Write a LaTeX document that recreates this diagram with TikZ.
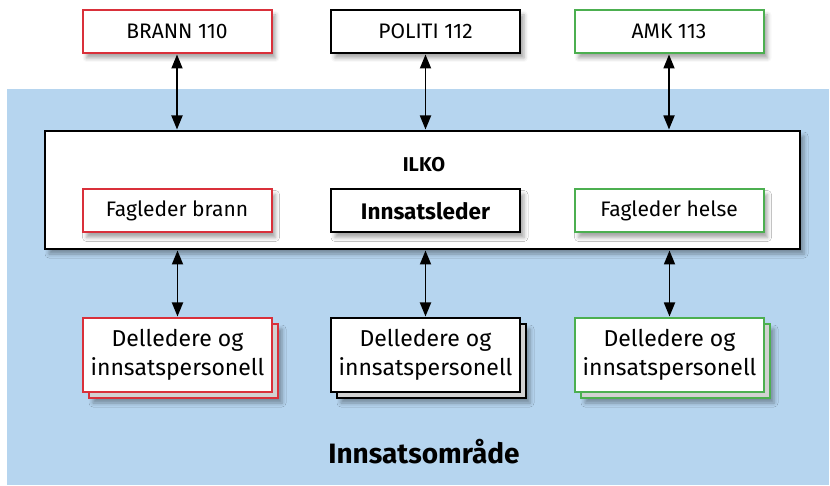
\documentclass[tikz,border=0pt]{standalone}
\usepackage{fontspec}
\setmainfont{Fira Sans}
\usetikzlibrary{arrows.meta,shadows.blur}
\definecolor{bluebg}{HTML}{B6D5EF}
\definecolor{redb}{HTML}{D9303A}
\definecolor{greenb}{HTML}{4CAF50}
\definecolor{sheet}{HTML}{D2D2D2}
\tikzset{
  box/.style={draw, line width=2pt, fill=white, minimum width=189pt, minimum height=43pt, inner sep=0pt,
    blur shadow={shadow xshift=4pt, shadow yshift=-5pt, shadow blur radius=4pt, shadow opacity=35},
    font=\fontsize{21}{25}\selectfont},
  bigbox/.style={draw, line width=2pt, fill=white, minimum width=189pt, minimum height=74pt, inner sep=0pt,
    align=center, font=\fontsize{23}{29}\selectfont},
  backsheet/.style={draw, line width=1.2pt, fill=sheet, minimum width=189pt, minimum height=74pt, inner sep=0pt,
    blur shadow={shadow xshift=4pt, shadow yshift=-5pt, shadow blur radius=4pt, shadow opacity=35}},
  conn/.style={line width=1.8pt, {Triangle[length=14pt,width=11pt]}-{Triangle[length=14pt,width=11pt]}, shorten <=0.5pt, shorten >=0.5pt}
}
\begin{document}
\begin{tikzpicture}[x=1pt,y=-1pt]
\useasboundingbox (0,0) rectangle (830,486);
\fill[bluebg] (7,89) rectangle (829,485);
% top boxes
\node[box, draw=redb] (brann) at (177,31.5) {BRANN 110};
\node[box, draw=black] (politi) at (425.5,31.5) {POLITI 112};
\node[box, draw=greenb] (amk) at (669,31.5) {AMK 113};
% ILKO
\node[draw, line width=2pt, fill=white, minimum width=755pt, minimum height=118pt, inner sep=0pt,
  blur shadow={shadow xshift=4pt, shadow yshift=-5pt, shadow blur radius=4pt, shadow opacity=35}] (ilko) at (422.5,190) {};
\node[font=\fontsize{20}{24}\selectfont\bfseries] (ilkolabel) at (424,165) {ILKO};
\node[box, draw=redb] (fbrann) at (177,211) {Fagleder brann};
\node[box, draw=black, font=\fontsize{22.5}{26}\selectfont\bfseries] (ileder) at (425.5,211) {Innsatsleder};
\node[box, draw=greenb] (fhelse) at (669,211) {Fagleder helse};
% bottom stacks
\node[backsheet, draw=redb] (d1b) at (183.5,361) {};
\node[bigbox, draw=redb] (d1) at (177.5,355) {Delledere og\\innsatspersonell};
\node[backsheet, draw=black] (d2b) at (431.5,361) {};
\node[bigbox, draw=black] (d2) at (425.5,355) {Delledere og\\innsatspersonell};
\node[backsheet, draw=greenb] (d3b) at (675.5,361) {};
\node[bigbox, draw=greenb] (d3) at (669.5,355) {Delledere og\\innsatspersonell};
% connectors
\draw[conn] (brann.south) -- (brann.south |- ilko.north);
\draw[conn] (politi.south) -- (politi.south |- ilko.north);
\draw[conn] (amk.south) -- (amk.south |- ilko.north);
\draw[conn] (d1.north |- ilko.south) -- (d1.north);
\draw[conn] (d2.north |- ilko.south) -- (d2.north);
\draw[conn] (d3.north |- ilko.south) -- (d3.north);
\node[font=\fontsize{28}{32}\selectfont\bfseries] (omr) at (424,452) {Innsatsområde};
\end{tikzpicture}
\end{document}
